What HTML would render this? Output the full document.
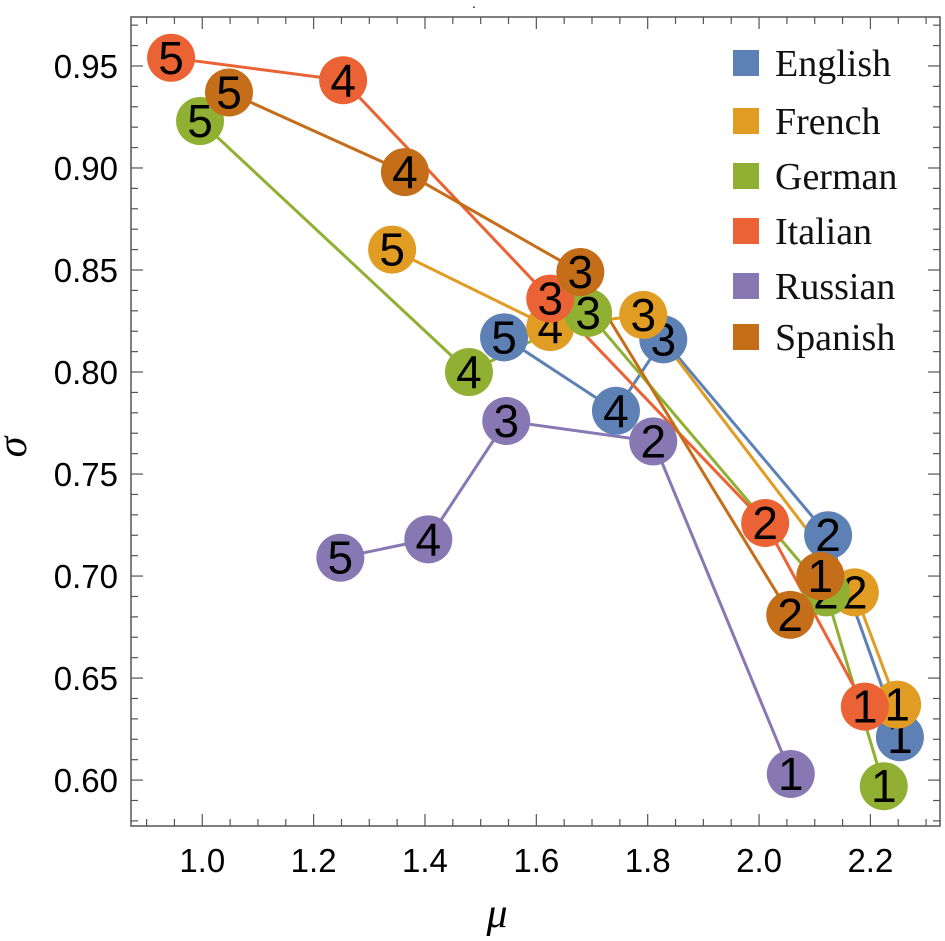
<!DOCTYPE html>
<html><head><meta charset="utf-8"><style>
html,body{margin:0;padding:0;background:#fff;}
svg{display:block;}
</style></head><body>
<svg id="chart" width="945" height="941" xmlns="http://www.w3.org/2000/svg">
<text x="474" y="8" font-family="Liberation Sans, sans-serif" font-size="14" text-anchor="middle">.</text>
</svg>
<script>
const seriesNames = ["English","French","German","Italian","Russian","Spanish"];
const seriesColors = ["#5E81B5","#E19C24","#8FB032","#EB6235","#8778B3","#C56E1A"];
const pointLabels = ["1","2","3","4","5"];
const englishMu = [2.253,2.124,1.828,1.743,1.542];
const englishSigma = [0.621,0.720,0.816,0.781,0.817];
const frenchMu = [2.248,2.172,1.792,1.625,1.341];
const frenchSigma = [0.637,0.692,0.828,0.822,0.860];
const germanMu = [2.224,2.120,1.693,1.479,0.996];
const germanSigma = [0.597,0.692,0.829,0.800,0.923];
const italianMu = [2.190,2.011,1.625,1.253,0.944];
const italianSigma = [0.636,0.726,0.836,0.943,0.954];
const russianMu = [2.057,1.810,1.546,1.406,1.248];
const russianSigma = [0.603,0.766,0.776,0.718,0.709];
const spanishMu = [2.110,2.056,1.679,1.364,1.048];
const spanishSigma = [0.700,0.681,0.849,0.898,0.937];
const xTicks = [1.0,1.2,1.4,1.6,1.8,2.0,2.2];
const yTicks = [0.60,0.65,0.70,0.75,0.80,0.85,0.90,0.95];

const muData=[englishMu,frenchMu,germanMu,italianMu,russianMu,spanishMu];
const sigData=[englishSigma,frenchSigma,germanSigma,italianSigma,russianSigma,spanishSigma];
const L=131,R=940,T=17,B=826;
const xMin=0.872,xMax=2.325,yMin=0.5775,yMax=0.974;
const X=v=>L+(v-xMin)/(xMax-xMin)*(R-L);
const Y=v=>B-(v-yMin)/(yMax-yMin)*(B-T);
const svg=document.getElementById('chart');
const NS="http://www.w3.org/2000/svg";
function mk(tag,attrs,parent){const e=document.createElementNS(NS,tag);for(const k in attrs)e.setAttribute(k,attrs[k]);(parent||svg).appendChild(e);return e;}

const frame=mk('rect',{x:L,y:T,width:R-L,height:B-T,fill:'none',stroke:'#555','stroke-width':1.5});


const tg=mk('g',{stroke:'#555','stroke-width':1.2});


for(let i=Math.ceil(xMin*20);i<=Math.floor(xMax*20);i++){
  const v=i/20,x=X(v),maj=(i%4===0);const len=maj?12:7;
  mk('line',{x1:x,y1:B,x2:x,y2:B-len},tg);mk('line',{x1:x,y1:T,x2:x,y2:T+len},tg);
}
for(let i=Math.ceil(yMin*100);i<=Math.floor(yMax*100);i++){
  const v=i/100,y=Y(v),maj=(i%5===0);const len=maj?12:7;
  mk('line',{x1:L,y1:y,x2:L+len,y2:y},tg);mk('line',{x1:R,y1:y,x2:R-len,y2:y},tg);
}
xTicks.forEach(v=>{const t=mk('text',{x:X(v),y:872,'font-family':'Liberation Sans, sans-serif','font-size':33,'text-anchor':'middle'});t.textContent=v.toFixed(1);

});
yTicks.forEach(v=>{const t=mk('text',{x:118,y:Y(v)+12,'font-family':'Liberation Sans, sans-serif','font-size':33,'text-anchor':'end'});t.textContent=v.toFixed(2);

});
const xt=mk('text',{x:497,y:927,'font-family':'Liberation Serif, serif','font-style':'italic','font-size':42,'text-anchor':'middle'});xt.textContent='μ';


const yt=mk('text',{x:0,y:0,'font-family':'Liberation Serif, serif','font-style':'italic','font-size':42,'text-anchor':'middle',transform:'translate(26,447) rotate(-90)'});yt.textContent='σ';



seriesNames.forEach((n,s)=>{
  const pts=muData[s].map((m,i)=>X(m)+','+Y(sigData[s][i])).join(' ');
  const pl=mk('polyline',{points:pts,fill:'none',stroke:seriesColors[s],'stroke-width':3});
  
  
});
seriesNames.forEach((n,s)=>{
  muData[s].forEach((m,i)=>{
    const g=mk('g',{});
    
    
    mk('circle',{cx:X(m),cy:Y(sigData[s][i]),r:24,fill:seriesColors[s]},g);
    const t=mk('text',{x:X(m),y:Y(sigData[s][i])+16,'font-family':'Liberation Sans, sans-serif','font-size':46,'text-anchor':'middle',fill:'#000'},g);
    t.textContent=pointLabels[i];
  });
});
const lg=mk('g',{});


const legY=[63,121,176,231,286,337];
seriesNames.forEach((n,s)=>{
  const g=mk('g',{},lg);
  
  
  mk('rect',{x:733,y:legY[s]-13,width:26,height:26,fill:seriesColors[s]},g);
  const t=mk('text',{x:775,y:legY[s]+13,'font-family':'Liberation Serif, serif','font-size':38,fill:'#111'},g);
  t.textContent=n;
});
</script>
</body></html>
